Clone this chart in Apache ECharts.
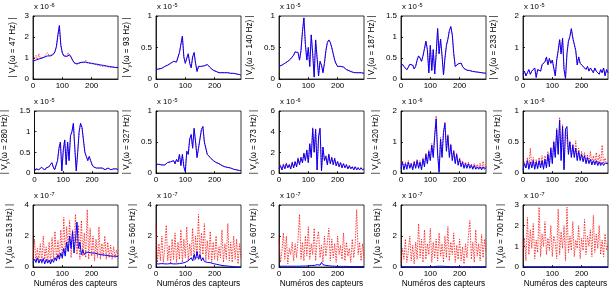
<!DOCTYPE html>
<html><head><meta charset="utf-8">
<script src="https://cdn.jsdelivr.net/npm/echarts@6/dist/echarts.min.js"></script>
<style>html,body{margin:0;padding:0;background:#fff}#c{width:612px;height:292px}</style>
</head><body><div id="c"></div>
<script>
const sensors = [0,5,10,15,20,25,30,35,40,45,50,55,60,65,70,75,80,85,90,95,100,105,110,115,120,125,130,135,140,145,150,155,160,165,170,175,180,185,190,195,200,205,210,215,220,225,230,235,240,245,250,255,260,265,270,275,280,285,290];
const freqs = [47,93,140,187,233,280,327,373,420,467,513,560,607,653,700];
const exponents = ['-6','-5','-5','-5','-5','-5','-5','-6','-6','-6','-7','-7','-7','-7','-7'];
const yMax = [3,1,1,1.5,2,1.5,1,6,2,1,4,4,4,4,3];
const yStep = [1,0.5,0.5,0.5,1,0.5,0.5,2,1,0.5,2,2,2,2,1];
const xTicks = [0,100,200];

const p47b = [0.85,0.88,0.9,0.93,0.95,0.98,1.0,1.02,1.05,1.08,
 1.1,1.1,1.1,1.12,1.18,1.3,1.55,2.1,2.55,1.6,
 1.25,1.1,1.05,1.08,1.12,1.15,1.05,0.9,0.78,0.72,
 0.72,0.75,0.78,0.8,0.8,0.8,0.8,0.78,0.77,0.76,
 0.75,0.74,0.72,0.7,0.7,0.68,0.67,0.66,0.65,0.63,
 0.62,0.6,0.6,0.58,0.57,0.56,0.55,0.55,0.55];
const p47r = [0.88,0.95,1.12,0.92,1.2,1.0,1.05,0.98,1.1,1.05,
 1.25,1.12,1.08,1.15,1.2,1.3,1.55,2.1,2.5,1.6,
 1.25,1.12,1.1,1.05,1.25,1.12,1.08,0.88,0.8,0.7,
 0.75,0.73,0.8,0.78,0.82,0.78,0.9,0.76,0.8,0.74,
 0.78,0.72,0.75,0.68,0.72,0.65,0.7,0.6,0.68,0.62,
 0.6,0.58,0.65,0.55,0.5,0.6,0.55,0.52,0.55];
const p93b = [0.15,0.15,0.16,0.16,0.17,0.18,0.2,0.21,0.22,0.24,
 0.25,0.27,0.28,0.27,0.27,0.3,0.42,0.55,0.68,0.35,
 0.25,0.33,0.4,0.25,0.18,0.35,0.42,0.25,0.12,0.2,
 0.22,0.2,0.19,0.21,0.23,0.23,0.21,0.18,0.16,0.14,
 0.13,0.12,0.11,0.1,0.1,0.1,0.1,0.1,0.1,0.1,
 0.09,0.09,0.09,0.09,0.08,0.08,0.07,0.07,0.06];
const p140b = [0.2,0.21,0.22,0.24,0.25,0.27,0.28,0.3,0.32,0.35,
 0.38,0.43,0.46,0.42,0.3,0.45,0.75,0.97,0.55,0.3,
 0.5,0.2,0.7,0.4,0.03,0.62,0.6,0.05,0.28,0.22,
 0.1,0.25,0.45,0.58,0.62,0.58,0.5,0.4,0.3,0.24,
 0.2,0.19,0.2,0.2,0.19,0.17,0.15,0.14,0.13,0.12,
 0.11,0.1,0.1,0.1,0.1,0.1,0.1,0.09,0.09];
const p187b = [0.3,0.35,0.3,0.28,0.22,0.28,0.35,0.38,0.33,0.24,
 0.3,0.45,0.55,0.5,0.42,0.55,0.72,0.9,0.7,0.15,
 0.8,0.2,0.7,0.12,0.6,1.2,0.6,0.95,0.55,0.1,
 0.5,0.8,0.95,1.15,1.25,1.05,0.6,0.3,0.3,0.36,
 0.4,0.38,0.3,0.25,0.22,0.21,0.2,0.2,0.19,0.18,
 0.18,0.17,0.17,0.16,0.16,0.15,0.15,0.14,0.14];
const p233b = [0.15,0.25,0.1,0.2,0.3,0.15,0.25,0.2,0.35,0.05,
 0.3,0.35,0.25,0.45,0.4,0.55,0.7,0.45,0.65,0.5,
 0.6,0.35,0.1,0.6,0.9,1.25,0.8,1.3,0.3,0.02,
 0.8,1.2,1.35,1.6,1.3,1.1,0.9,0.45,0.7,0.5,
 0.55,0.4,0.45,0.3,0.4,0.25,0.35,0.3,0.2,0.35,
 0.25,0.3,0.15,0.3,0.2,0.35,0.1,0.3,0.2];
const p280b = [0.05,0.1,0.12,0.08,0.1,0.14,0.1,0.07,0.12,0.1,
 0.15,0.2,0.25,0.15,0.08,0.1,0.3,0.6,0.75,0.05,
 0.55,0.8,0.2,0.75,0.3,0.9,1.0,1.2,0.6,0.05,
 0.5,1.0,1.2,1.1,0.8,0.5,0.4,0.3,0.4,0.3,
 0.2,0.15,0.15,0.12,0.15,0.12,0.1,0.12,0.1,0.08,
 0.1,0.12,0.1,0.08,0.12,0.1,0.08,0.1,0.08];
const p327b = [0.14,0.13,0.14,0.12,0.13,0.14,0.13,0.15,0.17,0.15,
 0.18,0.16,0.2,0.15,0.22,0.18,0.3,0.12,0.3,0.1,
 0.02,0.35,0.3,0.55,0.62,0.4,0.72,0.5,0.25,0.4,
 0.55,0.7,0.75,0.5,0.4,0.3,0.28,0.25,0.22,0.2,
 0.18,0.17,0.15,0.15,0.14,0.12,0.12,0.1,0.1,0.09,
 0.08,0.08,0.07,0.06,0.06,0.05,0.05,0.04,0.04];
const p373b = [0.4,0.7,0.3,0.8,0.4,0.9,0.5,0.8,0.4,1.0,
 0.5,1.1,0.6,1.4,0.8,1.5,1.0,1.9,1.2,2.2,
 1.0,2.8,1.5,4.3,2.0,4.2,0.3,3.5,4.3,0.2,
 2.5,1.2,1.6,0.8,1.8,0.9,1.5,0.8,1.4,0.7,
 1.1,0.6,1.0,0.5,0.9,0.5,0.8,0.4,0.7,0.4,
 0.6,0.3,0.6,0.3,0.5,0.3,0.5,0.3,0.4];
const p373r = [0.5,0.8,0.3,0.9,0.4,1.0,0.5,0.85,0.4,1.1,
 0.5,1.15,0.6,1.5,0.8,1.55,1.0,1.95,1.2,2.25,
 1.0,2.9,1.5,4.4,2.0,4.3,0.3,3.55,4.4,0.2,
 2.55,1.2,1.7,0.8,1.85,0.9,1.55,0.8,1.45,0.7,
 1.15,0.6,1.05,0.5,0.95,0.5,0.85,0.4,0.75,0.4,
 0.65,0.3,0.65,0.3,0.55,0.3,0.55,0.3,0.45];
const p420b = [0.15,0.35,0.1,0.3,0.12,0.35,0.15,0.3,0.1,0.35,
 0.15,0.4,0.15,0.35,0.1,0.45,0.2,0.6,0.3,0.7,
 0.4,0.9,0.5,1.2,1.75,0.6,0.02,1.1,0.5,1.3,
 1.6,0.7,1.2,0.5,0.9,0.4,0.7,0.3,0.6,0.25,
 0.45,0.2,0.35,0.15,0.3,0.15,0.3,0.15,0.25,0.12,
 0.25,0.12,0.2,0.12,0.2,0.1,0.2,0.12,0.18];
const p420r = [0.25,0.4,0.15,0.35,0.2,0.4,0.18,0.33,0.15,0.4,
 0.17,0.45,0.18,0.4,0.12,0.5,0.25,0.65,0.32,0.75,
 0.42,0.95,0.55,1.25,1.85,0.65,0.05,1.15,0.55,1.35,
 1.65,0.75,1.25,0.55,0.95,0.45,0.75,0.35,0.65,0.28,
 0.5,0.25,0.4,0.2,0.35,0.2,0.35,0.18,0.3,0.15,
 0.3,0.15,0.28,0.15,0.32,0.12,0.38,0.15,0.22];
const p467b = [0.05,0.15,0.08,0.2,0.06,0.18,0.08,0.2,0.06,0.18,
 0.07,0.2,0.08,0.2,0.06,0.22,0.08,0.3,0.1,0.4,
 0.15,0.5,0.25,0.7,0.3,0.85,0.2,0.75,0.05,0.7,
 0.75,0.3,0.5,0.25,0.45,0.25,0.4,0.2,0.35,0.2,
 0.3,0.18,0.28,0.15,0.25,0.15,0.22,0.13,0.2,0.13,
 0.2,0.12,0.18,0.12,0.17,0.12,0.16,0.13,0.15];
const p467r = [0.08,0.18,0.08,0.25,0.08,0.4,0.1,0.25,0.08,0.22,
 0.08,0.25,0.1,0.28,0.08,0.28,0.1,0.35,0.12,0.42,
 0.18,0.52,0.27,0.72,0.32,0.9,0.22,0.78,0.07,0.72,
 0.72,0.32,0.52,0.27,0.47,0.27,0.52,0.22,0.4,0.22,
 0.35,0.2,0.33,0.17,0.3,0.17,0.35,0.15,0.28,0.15,
 0.33,0.14,0.3,0.14,0.45,0.15,0.24,0.15,0.18];
const p513b = [0.3,0.5,0.3,0.6,0.25,0.5,0.3,0.55,0.2,0.5,
 0.25,0.45,0.2,0.5,0.3,0.6,0.4,0.8,0.5,0.9,
 0.6,1.2,0.7,1.6,1.0,2.0,1.2,2.3,0.9,1.8,
 2.9,1.2,1.6,0.8,1.1,0.8,0.95,0.85,0.95,0.9,
 0.9,0.85,0.9,0.85,0.85,0.8,0.8,0.8,0.78,0.75,
 0.75,0.75,0.72,0.72,0.7,0.7,0.7,0.68,0.68];
const p513r = [0.5,1.8,0.3,1.2,0.4,1.5,0.2,2.0,0.5,1.3,
 0.3,1.6,0.2,1.9,0.5,2.3,0.4,1.7,0.6,2.4,
 0.5,3.2,0.8,2.6,1.0,3.0,0.6,2.4,1.2,3.4,
 0.8,2.7,0.5,3.0,0.7,2.2,0.6,3.7,0.5,2.5,
 0.7,2.0,0.4,1.8,0.6,2.6,0.5,1.5,0.7,2.0,
 0.5,1.6,0.6,1.4,0.5,1.3,0.6,1.1,0.7];
const p560b = [0.2,0.22,0.2,0.2,0.22,0.2,0.2,0.22,0.2,0.2,
 0.22,0.2,0.2,0.22,0.2,0.2,0.22,0.2,0.25,0.22,
 0.3,0.25,0.4,0.3,0.6,0.4,0.8,0.5,1.0,0.5,
 0.8,0.4,0.6,0.35,0.45,0.3,0.3,0.28,0.25,0.22,
 0.2,0.18,0.16,0.14,0.12,0.1,0.09,0.08,0.07,0.06,
 0.05,0.04,0.03,0.02,0.02,0.01,0.01,0.01,0.01];
const p560r = [2.7,0.3,1.5,0.4,2.0,0.3,1.2,2.7,0.4,1.4,
 0.2,1.8,0.5,2.2,0.3,1.6,0.5,2.4,0.3,1.8,
 0.6,2.6,0.4,1.5,0.7,2.5,0.4,2.0,0.6,3.4,
 0.5,2.2,0.8,2.8,0.4,1.7,0.5,2.3,0.3,1.6,
 0.5,2.0,0.4,1.3,0.6,2.4,0.3,1.5,0.5,2.8,
 0.4,1.6,0.3,2.0,0.5,1.8,0.2,1.5,0.6];
const p607b = [0.05,0.04,0.05,0.04,0.05,0.04,0.05,0.04,0.05,0.04,
 0.05,0.04,0.05,0.04,0.05,0.05,0.06,0.05,0.06,0.06,
 0.07,0.08,0.1,0.15,0.1,0.2,0.15,0.25,0.12,0.3,
 0.15,0.25,0.1,0.2,0.08,0.12,0.06,0.05,0.05,0.04,
 0.04,0.04,0.04,0.04,0.04,0.04,0.04,0.03,0.03,0.03,
 0.03,0.03,0.03,0.03,0.03,0.03,0.03,0.03,0.03];
const p607r = [1.8,0.3,1.0,2.2,0.5,2.0,0.2,1.2,0.8,1.6,
 0.4,1.5,0.6,1.8,3.4,0.5,1.6,0.4,2.0,0.7,
 2.6,0.5,1.5,0.8,2.5,0.4,1.8,2.3,0.6,1.4,
 0.3,2.0,0.7,1.6,2.5,0.4,1.8,0.6,1.5,0.3,
 2.0,0.8,1.4,0.5,2.2,0.4,1.6,0.7,1.2,0.3,
 1.8,0.6,1.5,3.7,0.8,1.6,0.4,1.5,0.6];
const p653b = [0.02,0.02,0.02,0.02,0.02,0.02,0.02,0.02,0.02,0.02,
 0.02,0.02,0.02,0.02,0.02,0.02,0.02,0.02,0.02,0.02,
 0.02,0.03,0.02,0.03,0.04,0.03,0.05,0.03,0.05,0.04,
 0.04,0.03,0.03,0.02,0.02,0.02,0.02,0.02,0.02,0.02,
 0.02,0.02,0.02,0.02,0.02,0.02,0.02,0.02,0.02,0.02,
 0.02,0.02,0.02,0.02,0.02,0.02,0.02,0.02,0.02];
const p653r = [0.3,1.2,0.5,1.8,0.3,1.0,2.0,0.4,1.4,0.2,
 1.6,0.5,2.8,0.6,1.8,0.3,2.4,0.5,1.5,0.8,
 2.5,0.3,1.6,0.6,1.8,0.4,2.2,0.7,1.5,0.3,
 2.0,0.6,2.6,0.4,1.6,0.8,2.2,0.3,1.4,0.5,
 1.8,0.4,1.3,0.2,1.5,0.6,2.0,3.0,0.5,1.6,
 0.3,2.4,0.7,1.5,0.4,2.1,0.6,1.8,1.0];
const p700b = [0.01,0.01,0.01,0.01,0.01,0.01,0.01,0.01,0.01,0.01,
 0.01,0.01,0.01,0.01,0.01,0.01,0.01,0.01,0.01,0.01,
 0.01,0.01,0.01,0.01,0.01,0.01,0.01,0.01,0.01,0.01,
 0.01,0.01,0.01,0.01,0.01,0.01,0.01,0.01,0.01,0.01,
 0.01,0.01,0.01,0.01,0.01,0.01,0.01,0.01,0.01,0.01,
 0.01,0.01,0.01,0.01,0.01,0.01,0.01,0.01,0.01];
const p700r = [0.8,1.4,0.3,2.4,0.6,1.8,0.9,2.1,0.4,1.3,
 0.7,2.9,0.5,1.6,1.0,2.2,0.6,1.4,0.8,2.0,
 0.5,1.5,1.2,0.4,2.8,0.6,1.7,0.9,2.0,0.3,
 2.9,0.7,1.5,0.8,2.2,0.5,1.3,0.9,2.0,0.4,
 1.4,0.8,2.3,0.6,1.5,1.0,1.8,0.5,2.5,0.7,
 1.6,0.9,2.0,0.6,1.3,0.5,1.6,0.8,1.1];

const blueSeries = [p47b,p93b,p140b,p187b,p233b,p280b,p327b,p373b,p420b,p467b,p513b,p560b,p607b,p653b,p700b];
const redSeries  = [p47r,p93b,p140b,p187b,p233b,p280b,p327b,p373r,p420r,p467r,p513r,p560r,p607r,p653r,p700r];

// layout (styling only)
const FONT = 'Liberation Sans, Arial, sans-serif';
const lefts = [33,156,279,401,523];
const tops = [16,111,205];
const heights = [63,62,62];
const W = 85;
const nameGaps = [15,24,24,24,24, 24,24,20,20,20, 18,18,20,18,17];

const grid=[], xAxis=[], yAxis=[], series=[], title=[];
freqs.forEach((f,i)=>{
  const c=i%5, r=Math.floor(i/5);
  grid.push({left:lefts[c], top:tops[r], width:W, height:heights[r], show:true, borderColor:'#000', borderWidth:0.8, backgroundColor:'rgba(0,0,0,0)'});
  xAxis.push({type:'value', gridIndex:i, min:0, max:290, interval:100,
    axisLine:{show:true, lineStyle:{color:'#000', width:0.8}},
    axisTick:{show:true, inside:true, length:2, lineStyle:{color:'#000', width:0.8}},
    axisLabel:{color:'#000', fontFamily:FONT, fontSize:8, margin:3, showMaxLabel:false,
      formatter:v=> xTicks.indexOf(v)>=0 ? String(v) : ''},
    splitLine:{show:false},
    name: r===2 ? 'Numéros des capteurs' : '', nameLocation:'middle', nameGap:13,
    nameTextStyle:{color:'#000', fontFamily:FONT, fontSize:8.3}
  });
  yAxis.push({type:'value', gridIndex:i, min:0, max:yMax[i], interval:yStep[i],
    axisLine:{show:true, lineStyle:{color:'#000', width:0.8}},
    axisTick:{show:true, inside:true, length:2, lineStyle:{color:'#000', width:0.8}},
    axisLabel:{color:'#000', fontFamily:FONT, fontSize:8, margin:4},
    splitLine:{show:false},
    name:'| V{s|y}(ω = '+f+' Hz) |', nameLocation:'middle', nameGap:nameGaps[i],
    nameTextStyle:{color:'#000', fontFamily:FONT, fontSize:8.2,
      rich:{s:{fontFamily:FONT, fontSize:6, color:'#000', verticalAlign:'top', padding:[5,0,0,0]}}}
  });
  title.push({text:'{a|x 10}{b|'+exponents[i]+'}', left:lefts[c]+1, top:tops[r]-14, padding:0,
    textStyle:{fontWeight:'normal', rich:{a:{fontFamily:FONT, fontSize:7.8, fontWeight:'normal', color:'#000'}, b:{fontFamily:FONT, fontSize:5.5, fontWeight:'normal', color:'#000', verticalAlign:'bottom', padding:[0,0,4,1]}}}});
  series.push({type:'line', xAxisIndex:i, yAxisIndex:i, symbol:'none', animation:false,
    data:sensors.map((x,k)=>[x, redSeries[i][k]]),
    lineStyle:{color:'#ff0000', width:0.75, type:[1.5,1.2]}});
  series.push({type:'line', xAxisIndex:i, yAxisIndex:i, symbol:'none', animation:false,
    data:sensors.map((x,k)=>[x, blueSeries[i][k]]),
    lineStyle:{color:'#0000ff', width:1}});
});

const chart = echarts.init(document.getElementById('c'));
chart.setOption({animation:false, backgroundColor:'#fff', title, grid, xAxis, yAxis, series});
</script>
</body></html>
